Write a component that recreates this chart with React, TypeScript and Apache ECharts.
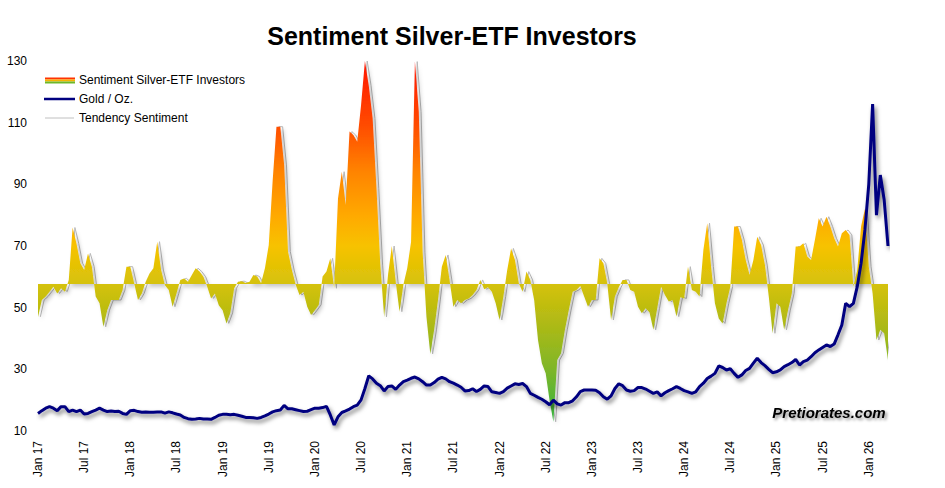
import React, { useEffect, useRef } from "react";
import * as echarts from "echarts";

// Half-month steps starting Jan 2017 (index i -> i * 0.5 months)
const STEP_MONTHS = 0.5;

const TICK_LABELS = [
  "Jan 17", "Jul 17", "Jan 18", "Jul 18", "Jan 19", "Jul 19", "Jan 20", "Jul 20",
  "Jan 21", "Jul 21", "Jan 22", "Jul 22", "Jan 23", "Jul 23", "Jan 24", "Jul 24",
  "Jan 25", "Jul 25", "Jan 26",
];

const Y_MIN = 10;
const Y_MAX = 130;
const Y_STEP = 20;
const BASELINE = 57.7;

const SENTIMENT = [
  47, 52.5, 53.6, 55.2, 56.8, 54.6, 56.3, 55.2, 59, 76,
  70.8, 64.4, 62.2, 67.6, 63.3, 53.6, 51.4, 43.8, 49.2, 52.5,
  52.5, 52.5, 55.7, 63.3, 63.3, 57.9, 52.5, 54.6, 58.4, 61.1,
  62.8, 71.4, 62.2, 57.3, 55.7, 50.3, 54.6, 59, 59.5, 58.4,
  60.6, 62.8, 61.7, 60, 56.8, 53, 54.6, 50.8, 49.2, 44.9,
  48.3, 56.3, 58.4, 58.6, 58, 58.4, 60.6, 60.1, 57.9, 62.8,
  70.3, 90.9, 108.7, 108.7, 96.3, 68.2, 62.2, 57.4, 54.1, 55.2,
  50.3, 47.6, 49.2, 50.9, 60.1, 61.7, 66, 56.3, 85.4, 94.1,
  83.3, 107.1, 106, 103.8, 115.7, 130, 122, 111.4, 88.7, 63.8,
  47, 60.6, 70, 58.4, 48.7, 57.4, 62.8, 71.4, 129.8, 113.6,
  68, 47, 35, 42.8, 52.5, 63.3, 67.1, 59, 50.3, 52.5,
  51.4, 52.5, 53, 54.1, 55.7, 59, 56, 56.6, 55.2, 51.4,
  46, 53.6, 62.2, 69.2, 65.5, 57.9, 55.2, 61.7, 59, 52.5,
  39.5, 32, 28.7, 20, 13, 33, 35.2, 42.8, 49.2, 55.2,
  55.7, 57, 53.6, 50.3, 52.5, 52.5, 66, 64.4, 57.9, 46,
  53.6, 56.6, 59, 59, 55.7, 55.2, 50.3, 48.2, 49.8, 48.4,
  42.8, 49.8, 56.8, 54.1, 52, 52.5, 47.1, 53.4, 53, 63.3,
  55.7, 55.2, 53.6, 68.7, 77.4, 63.3, 51.4, 46.5, 44.9, 51.4,
  56.8, 76.3, 76.3, 72, 65.5, 60.6, 65.5, 73, 70.3, 63.8,
  53.6, 41.7, 51.4, 50.3, 42.8, 49.2, 54.7, 69.8, 69.8, 70.9,
  66.6, 65.5, 72, 79, 76.3, 79.5, 76.3, 72.5, 69.8, 74.1,
  75.2, 73.6, 56.8, 62.2, 76.3, 82, 63.3, 54.7, 39.5, 42.8,
  41.7, 33,
];

const GOLD = [
  15.7, 16.6, 17.4, 17.9, 17.4, 16.6, 17.9, 17.9, 16.3, 16.8,
  16.3, 16.8, 15.5, 15.7, 16.3, 16.8, 17.4, 16.8, 16.3, 16.5,
  16.3, 16.4, 15.7, 15.4, 16.6, 16.7, 16.3, 16.1, 16.2, 16.1,
  16.1, 16.2, 16.2, 15.8, 16.2, 15.9, 15.5, 15.2, 14.4, 14,
  13.8, 13.9, 14.1, 13.9, 13.9, 13.8, 14.4, 15.1, 15.4, 15.4,
  15.3, 15.4, 15.1, 14.8, 14.4, 14.4, 14.3, 14.1, 14.4, 14.9,
  15.5, 16.2, 16.6, 16.8, 18.3, 17.2, 17.2, 16.9, 16.6, 16.3,
  16.4, 16.9, 17.4, 17.4, 17.6, 18, 15.2, 12, 14.6, 16,
  16.5, 17.1, 17.9, 18.4, 20.1, 23.8, 27.9, 26.9, 25.5, 24.7,
  23, 24.4, 24.6, 23.5, 24.9, 26, 26.5, 27.1, 27.5, 26.9,
  26, 24.9, 24.9, 25.7, 26.8, 27.4, 26.9, 26, 25.5, 24.9,
  24.2, 23, 23.1, 23.7, 22.8, 23.5, 24.6, 24.4, 22.7, 22.5,
  22.2, 22.8, 23.9, 24.6, 25.3, 25.1, 25.4, 24.4, 22.2, 21.6,
  20.9, 20.3, 19.5, 18.5, 20, 18.8, 18.4, 19.2, 19.2, 19.8,
  21.1, 22.8, 23.3, 23.3, 23.3, 23.2, 22.4, 21.1, 20.3, 21.4,
  23.8, 25.3, 24.7, 23.3, 22.9, 23.1, 24.1, 24.1, 23.6, 22.9,
  22.2, 22.7, 21.4, 22.4, 23.1, 23.7, 24.4, 23.8, 23.1, 22.7,
  22.2, 22.7, 24.4, 25.5, 27, 27.8, 28.7, 31.1, 30.6, 29.8,
  30.2, 28.7, 27.4, 28.2, 29.6, 30.3, 32, 33.6, 32.2, 31.2,
  30, 28.9, 29.2, 29.8, 30.9, 31.5, 32.2, 33.2, 31.4, 32.5,
  33, 34.1, 35.4, 36.3, 37.1, 37.9, 37.4, 38.2, 41.2, 44.4,
  51.4, 50.3, 51.4, 56.8, 64.4, 75.2, 90, 116, 80, 93,
  85, 70,
];

const LEGEND = ["Sentiment Silver-ETF Investors", "Gold / Oz.", "Tendency Sentiment"];
const TITLE = "Sentiment Silver-ETF Investors";
const WATERMARK = "Pretiorates.com";

const FONT = "'Liberation Sans', Arial, Helvetica, sans-serif";

const GRID_LEFT = 38;
const GRID_TOP = 61;
const GRID_RIGHT = 57;
const GRID_BOTTOM = 57;
const W = 945;
const H = 488;

export default function App() {
  const ref = useRef<HTMLDivElement>(null);

  useEffect(() => {
    if (!ref.current) return;
    const chart = echarts.init(ref.current, undefined, { renderer: "svg" });

    const xMax = (SENTIMENT.length - 1) * STEP_MONTHS;
    const sentData = SENTIMENT.map((v, i) => [i * STEP_MONTHS, v]);
    const goldData = GOLD.map((v, i) => [i * STEP_MONTHS, v]);

    const yTop = GRID_TOP;
    const yBottom = H - GRID_BOTTOM;
    const gradient = new echarts.graphic.LinearGradient(
      0, yTop, 0, yBottom,
      [
        { offset: 0, color: "#ff1500" },
        { offset: 0.17, color: "#ff4a00" },
        { offset: 0.3, color: "#ff8400" },
        { offset: 0.42, color: "#ffaa00" },
        { offset: 0.5, color: "#f7c200" },
        { offset: 0.6, color: "#d6c20a" },
        { offset: 0.7, color: "#b2ba14" },
        { offset: 0.83, color: "#80b628" },
        { offset: 0.96, color: "#3cb43c" },
        { offset: 1, color: "#30b040" },
      ],
      true
    );

    const xLabelFormatter = (v: number) => {
      const k = v / 6;
      return Number.isInteger(k) && TICK_LABELS[k] ? TICK_LABELS[k] : "";
    };

    chart.setOption({
      animation: false,
      backgroundColor: "#ffffff",
      textStyle: { fontFamily: FONT },
      grid: { left: GRID_LEFT, top: GRID_TOP, right: GRID_RIGHT, bottom: GRID_BOTTOM, containLabel: false },
      xAxis: [
        {
          type: "value",
          min: 0,
          max: xMax,
          interval: 6,
          axisLine: { show: false },
          axisTick: { show: false },
          splitLine: { show: false },
          axisLabel: {
            rotate: 90,
            margin: 10,
            fontSize: 12,
            color: "#000",
            fontFamily: FONT,
            showMaxLabel: false,
            formatter: xLabelFormatter,
          },
        },
        {
          type: "value",
          min: -0.3,
          max: xMax - 0.3,
          show: false,
        },
      ],
      yAxis: {
        type: "value",
        min: Y_MIN,
        max: Y_MAX,
        interval: Y_STEP,
        axisLine: { show: false },
        axisTick: { show: false },
        splitLine: { show: false },
        axisLabel: { fontSize: 12, color: "#000", margin: 11, fontFamily: FONT },
      },
      series: [
        {
          name: LEGEND[2],
          type: "line",
          xAxisIndex: 1,
          data: sentData,
          symbol: "none",
          z: 1,
          lineStyle: { color: "#b8b8b8", width: 1 },
        },
        {
          name: LEGEND[0],
          type: "line",
          xAxisIndex: 0,
          data: sentData,
          symbol: "none",
          z: 2,
          lineStyle: { width: 0, opacity: 0 },
          areaStyle: {
            origin: BASELINE,
            color: gradient,
            opacity: 1,
            shadowColor: "rgba(0,0,0,0.22)",
            shadowBlur: 4,
            shadowOffsetX: 3,
            shadowOffsetY: 3,
          },
        },
        {
          name: LEGEND[1],
          type: "line",
          xAxisIndex: 0,
          data: goldData,
          symbol: "none",
          z: 3,
          lineStyle: {
            color: "#000080",
            width: 3,
            shadowColor: "rgba(0,0,0,0.5)",
            shadowBlur: 4,
            shadowOffsetX: 2,
            shadowOffsetY: 3,
          },
        },
      ],
      graphic: [
        {
          type: "text",
          x: 452,
          y: 36,
          style: {
            text: TITLE,
            font: `bold 25px ${FONT}`,
            fill: "#000",
            textAlign: "center",
            textVerticalAlign: "middle",
          },
        },
        { type: "rect", shape: { x: 45, y: 77.5, width: 30, height: 2 }, style: { fill: "#ff3300" } },
        { type: "rect", shape: { x: 45, y: 79.5, width: 30, height: 2 }, style: { fill: "#f5b400" } },
        { type: "rect", shape: { x: 45, y: 81.5, width: 30, height: 2 }, style: { fill: "#6cb82a" } },
        {
          type: "text",
          x: 79,
          y: 80,
          style: { text: LEGEND[0], font: `12px ${FONT}`, fill: "#000", textVerticalAlign: "middle" },
        },
        {
          type: "line",
          shape: { x1: 44, y1: 99, x2: 75, y2: 99 },
          style: { stroke: "#000080", lineWidth: 2.5 },
        },
        {
          type: "text",
          x: 79,
          y: 99,
          style: { text: LEGEND[1], font: `12px ${FONT}`, fill: "#000", textVerticalAlign: "middle" },
        },
        {
          type: "line",
          shape: { x1: 45, y1: 118, x2: 74, y2: 118 },
          style: { stroke: "#c0c0c0", lineWidth: 1 },
        },
        {
          type: "text",
          x: 79,
          y: 118,
          style: { text: LEGEND[2], font: `12px ${FONT}`, fill: "#000", textVerticalAlign: "middle" },
        },
        {
          type: "text",
          x: 829,
          y: 412,
          z: 10,
          style: {
            text: WATERMARK,
            font: `italic bold 15px ${FONT}`,
            fill: "#000",
            textAlign: "center",
            textVerticalAlign: "middle",
            textShadowColor: "rgba(0,0,0,0.45)",
            textShadowBlur: 3,
            textShadowOffsetX: 2,
            textShadowOffsetY: 2,
          },
        },
      ],
    });

    return () => chart.dispose();
  }, []);

  return (
    <div
      ref={ref}
      style={{ position: "absolute", left: 0, top: 0, width: W, height: H, background: "#fff" }}
    />
  );
}
